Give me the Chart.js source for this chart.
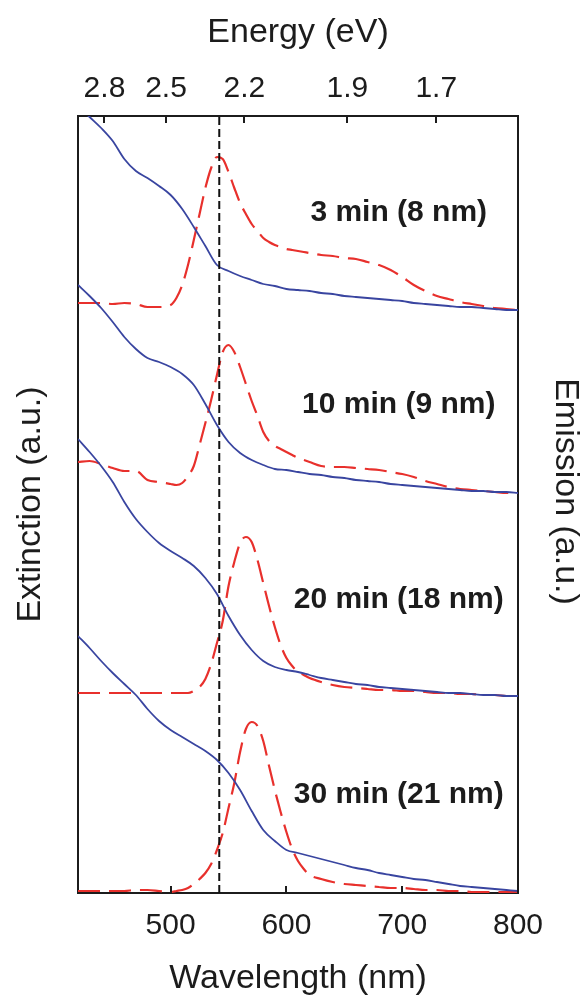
<!DOCTYPE html>
<html>
<head>
<meta charset="utf-8">
<title>Extinction and emission spectra</title>
<script src="https://cdn.jsdelivr.net/npm/chart.js@4"></script>
<style>
  html, body { margin: 0; padding: 0; background: #fff; }
  canvas { display: block; }
</style>
</head>
<body>
<canvas id="spectraChart" width="584" height="999"></canvas>
<script>
// Wavelength grids (nm)
var wlAbs = [420, 430, 440, 450, 460, 470, 480, 490, 500, 510, 520, 530, 540, 550, 560, 570, 580, 590, 600,
             610, 620, 630, 640, 650, 660, 670, 680, 690, 700, 710, 720, 730, 740, 750, 760, 770, 780, 790, 800];
var wlEm = [420, 430, 440, 450, 460, 470, 480, 490,
            500, 505, 510, 515, 520, 525, 530, 535, 540, 545, 550, 555, 560, 565, 570, 575, 580, 585, 590, 595, 600, 605, 610, 615, 620,
            630, 640, 650, 660, 670, 680, 690, 700, 710, 720, 730, 740, 750, 760, 770, 780, 790, 800];

// Extinction spectra (a.u., stacked)
var ext3 = [787, 776, 765, 752, 734, 722, 715, 707, 698, 684, 666, 647, 628, 622, 617, 613, 609, 607, 604,
            603, 602, 600, 599, 597, 596, 595, 594, 593, 592, 590, 589, 588, 587, 586, 586, 585, 584, 583, 583];
var ext10 = [608, 597, 585, 571, 556, 544, 535, 531, 526, 519, 508, 489, 468, 451, 440, 433, 428, 424, 423,
             421, 419, 418, 416, 415, 413, 412, 411, 409, 408, 407, 406, 405, 404, 403, 402, 402, 401, 401, 400];
var ext20 = [454, 441, 427, 411, 391, 374, 361, 350, 342, 335, 327, 315, 299, 277, 258, 243, 232, 226, 223,
             221, 218, 215, 213, 211, 209, 208, 206, 205, 204, 203, 202, 201, 200, 200, 199, 198, 198, 197, 197];
var ext30 = [257, 245, 232, 220, 209, 198, 184, 172, 163, 156, 149, 142, 133, 120, 103, 82, 63, 52, 43,
             40, 37, 34, 31, 28, 25, 23, 20, 18, 16, 14, 13, 11, 9, 7, 6, 5, 4, 3, 2];

// Emission spectra (a.u., stacked)
var em3 = [590, 590, 590, 589, 590, 589, 586, 586,
           588, 595, 608, 628, 653, 679, 705, 725, 736, 734, 721, 705, 690, 679, 669, 662, 655, 651, 648, 646, 644, 643, 642, 641, 640,
           638, 637, 635, 634, 631, 628, 623, 616, 608, 602, 597, 594, 591, 589, 587, 585, 584, 583];
var em10 = [431, 432, 429, 425, 422, 422, 413, 411,
            409, 408, 410, 417, 427, 448, 470, 493, 518, 541, 548, 541, 526, 509, 492, 477, 461, 452, 447, 444, 441, 438, 435, 433, 431,
            427, 426, 426, 425, 424, 423, 421, 419, 416, 412, 409, 406, 404, 403, 402, 401, 400, 400];
var em20 = [200, 200, 200, 200, 200, 200, 200, 200,
            200, 200, 200, 200, 202, 206, 214, 229, 250, 272, 307, 331, 350, 356, 351, 333, 310, 287, 266, 248, 235, 227, 221, 218, 215,
            211, 208, 206, 205, 204, 203, 203, 202, 202, 201, 200, 200, 199, 199, 198, 198, 197, 197];
var em30 = [2, 2, 2, 2, 2, 3, 3, 2,
            1, 2, 3, 5, 9, 14, 20, 29, 43, 60, 85, 110, 141, 164, 171, 167, 152, 127, 103, 81, 61, 44, 32, 24, 18,
            14, 11, 9, 8, 7, 6, 5, 5, 4, 3, 3, 2, 2, 1, 1, 1, 1, 1];

// Axis ticks
var wlTicks = [500, 600, 700, 800];
var energyTicks = [2.8, 2.5, 2.2, 1.9, 1.7];
var energyLabels = ['2.8', '2.5', '2.2', '1.9', '1.7'];

// Reference line and sample labels
var refLine = 542;
var sampleNames = ['3 min (8 nm)', '10 min (9 nm)', '20 min (18 nm)', '30 min (21 nm)'];
var sampleLabelY = [680, 488, 293, 98];
var sampleLabelX = 697;

var blue = '#3945a0';
var red = '#e8302c';
var ink = '#1c1c1c';
var fontFamily = '"Liberation Sans", Arial, Helvetica, sans-serif';

function pairs(xs, ys) {
    return xs.map(function(x, i) { return { x: x, y: ys[i] }; });
}

function extSet(vals) {
    return { data: pairs(wlAbs, vals), borderColor: blue, borderWidth: 1.8,
             pointRadius: 0, cubicInterpolationMode: 'monotone', order: 1 };
}

function emSet(vals) {
    return { data: pairs(wlEm, vals), borderColor: red, borderWidth: 2.2, borderDash: [22, 9],
             pointRadius: 0, cubicInterpolationMode: 'monotone', order: 2 };
}

// Inward tick marks, sample labels and the right-hand title
var decorations = {
    id: 'decorations',
    afterDatasetsDraw: function(chart) {
        var ctx = chart.ctx;
        var area = chart.chartArea;
        var xb = chart.scales.x;
        var xt = chart.scales.x2;
        var ys = chart.scales.y;

        ctx.save();
        ctx.strokeStyle = ink;
        ctx.lineWidth = 2;
        ctx.beginPath();
        xb.ticks.forEach(function(t) {
            var px = Math.round(xb.getPixelForValue(t.value));
            ctx.moveTo(px, area.bottom);
            ctx.lineTo(px, area.bottom - 7);
        });
        xt.ticks.forEach(function(t) {
            var px = Math.round(xt.getPixelForValue(t.value));
            ctx.moveTo(px, area.top);
            ctx.lineTo(px, area.top + 7);
        });
        ctx.stroke();

        ctx.fillStyle = ink;
        ctx.font = 'bold 30px ' + fontFamily;
        ctx.textAlign = 'center';
        ctx.textBaseline = 'middle';
        sampleNames.forEach(function(name, i) {
            ctx.fillText(name, xb.getPixelForValue(sampleLabelX), ys.getPixelForValue(sampleLabelY[i]));
        });

        ctx.font = '34px ' + fontFamily;
        ctx.translate(area.right + 47, (area.top + area.bottom) / 2 - 13);
        ctx.rotate(Math.PI / 2);
        ctx.fillText('Emission (a.u.)', 0, 0);
        ctx.restore();
    }
};

var datasets = [
    extSet(ext3), emSet(em3),
    extSet(ext10), emSet(em10),
    extSet(ext20), emSet(em20),
    extSet(ext30), emSet(em30),
    { data: [{ x: refLine, y: 0 }, { x: refLine, y: 777 }], borderColor: '#111', borderWidth: 2,
      borderDash: [8, 4], pointRadius: 0, order: 0 }
];

var ctx = document.getElementById('spectraChart').getContext('2d');
new Chart(ctx, {
    type: 'line',
    data: { datasets: datasets },
    options: {
        responsive: false,
        animation: false,
        devicePixelRatio: 1,
        layout: { padding: 0 },
        plugins: { legend: { display: false }, tooltip: { enabled: false } },
        font: { family: fontFamily },
        scales: {
            x: {
                type: 'linear', position: 'bottom', min: 420, max: 800,
                afterBuildTicks: function(s) { s.ticks = wlTicks.map(function(v) { return { value: v }; }); },
                afterFit: function(s) { s.height = 106; },
                grid: { display: false, drawTicks: false },
                border: { display: true, color: ink, width: 2 },
                ticks: { color: ink, padding: 15, maxRotation: 0, font: { size: 30, family: fontFamily } },
                title: { display: true, text: 'Wavelength (nm)', color: ink, padding: { top: 0, bottom: 0 },
                         font: { size: 34, family: fontFamily } }
            },
            x2: {
                type: 'linear', position: 'top', min: 420, max: 800,
                afterBuildTicks: function(s) {
                    s.ticks = energyTicks.map(function(e) { return { value: 1240 / e }; });
                },
                afterFit: function(s) { s.height = 116; },
                grid: { display: false, drawTicks: false },
                border: { display: true, color: ink, width: 2 },
                ticks: { color: ink, padding: 9, maxRotation: 0, autoSkip: false,
                         font: { size: 30, family: fontFamily },
                         callback: function(v, i) { return energyLabels[i]; } },
                title: { display: true, text: 'Energy (eV)', color: ink, padding: { top: 12, bottom: 0 },
                         font: { size: 34, family: fontFamily } }
            },
            y: {
                type: 'linear', position: 'left', min: 0, max: 777,
                afterFit: function(s) { s.width = 78; },
                grid: { display: false, drawTicks: false },
                border: { display: true, color: ink, width: 2 },
                ticks: { display: false },
                title: { display: true, text: 'Extinction (a.u.)', color: ink, padding: { top: 10, bottom: 0 },
                         font: { size: 34, family: fontFamily } }
            },
            y2: {
                type: 'linear', position: 'right', min: 0, max: 777,
                afterFit: function(s) { s.width = 66; },
                grid: { display: false, drawTicks: false },
                border: { display: true, color: ink, width: 2 },
                ticks: { display: false }
            }
        }
    },
    plugins: [decorations]
});
</script>
</body>
</html>
